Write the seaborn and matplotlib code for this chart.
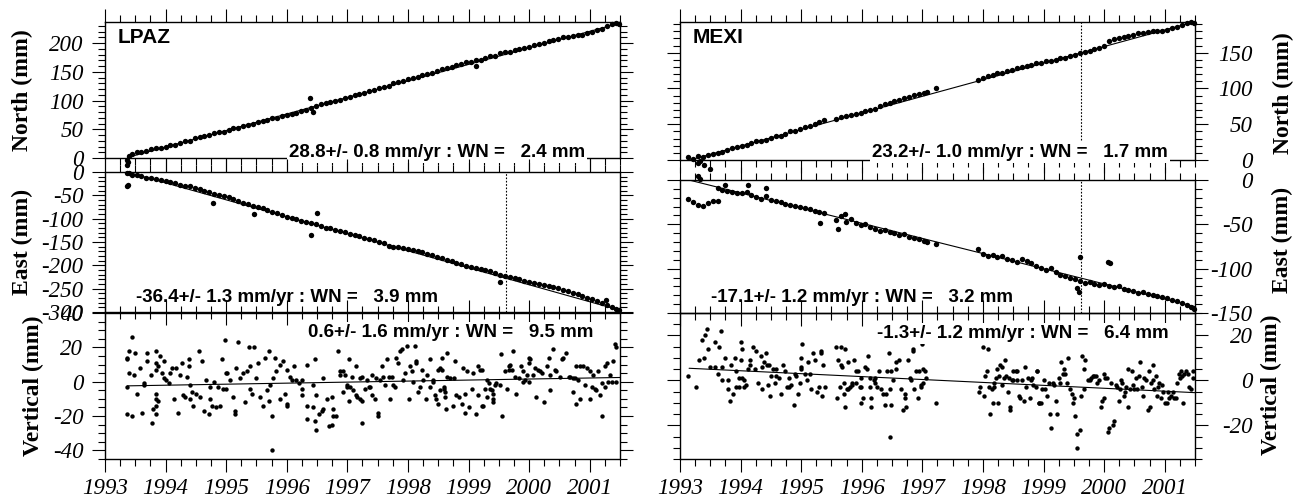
import numpy as np
import pandas as pd
import seaborn as sns
import matplotlib.pyplot as plt
from matplotlib.ticker import MultipleLocator, StrMethodFormatter
from matplotlib.font_manager import FontProperties

sns.set_style('ticks', rc={'axes.edgecolor': 'black', 'xtick.color': 'black',
                           'ytick.color': 'black', 'text.color': 'black'})
plt.rcParams['font.family'] = ['Liberation Serif', 'DejaVu Serif']
plt.rcParams['axes.unicode_minus'] = False

TICK_FONT = FontProperties(family='Liberation Serif', style='italic', size=16.5)

# ---------------- LPAZ: north / east epochs ----------------
LPAZ_T = [1993.37, 1993.40, 1993.45, 1993.52, 1993.60, 1993.68, 1993.76, 1993.84, 1993.92,
          1994.00, 1994.08, 1994.16, 1994.24, 1994.32, 1994.40, 1994.48, 1994.56, 1994.64, 1994.72, 1994.80, 1994.88, 1994.96,
          1995.04, 1995.12, 1995.20, 1995.28, 1995.36, 1995.44, 1995.52, 1995.60, 1995.68, 1995.76, 1995.84, 1995.92,
          1996.00, 1996.08, 1996.16, 1996.24, 1996.32, 1996.40, 1996.48, 1996.56, 1996.64, 1996.72, 1996.80, 1996.88, 1996.96,
          1997.04, 1997.12, 1997.20, 1997.28, 1997.36, 1997.44, 1997.52, 1997.60, 1997.68, 1997.76, 1997.84, 1997.92,
          1998.00, 1998.08, 1998.16, 1998.24, 1998.32, 1998.40, 1998.48, 1998.56, 1998.64, 1998.72, 1998.80, 1998.88, 1998.96,
          1999.04, 1999.12, 1999.20, 1999.28, 1999.36, 1999.44, 1999.52, 1999.60, 1999.68, 1999.76, 1999.84, 1999.92,
          2000.00, 2000.08, 2000.16, 2000.24, 2000.32, 2000.40, 2000.48, 2000.56, 2000.64, 2000.72, 2000.80, 2000.88, 2000.96,
          2001.04, 2001.12, 2001.20, 2001.28, 2001.36, 2001.44, 2001.48]
LPAZ_N = [-3, 4, 7, 10, 11, 12, 15, 17, 17,
          20, 22, 23, 27, 29, 30, 34, 36, 39, 40, 43, 45, 46,
          49, 52, 53, 56, 57, 60, 63, 64, 66, 69, 70, 73,
          75, 76, 79, 82, 84, 88, 90, 94, 95, 98, 100, 101, 104,
          106, 109, 111, 113, 117, 118, 122, 124, 126, 130, 132, 134,
          137, 139, 141, 144, 147, 148, 151, 155, 156, 159, 162, 163, 167,
          168, 170, 171, 174, 177, 178, 183, 184, 185, 188, 190, 191,
          194, 197, 198, 201, 204, 205, 207, 210, 211, 213, 215, 215, 217,
          219, 223, 224, 230, 234, 235, 233]
LPAZ_E = [-2, -3, -6, -7, -9, -12, -13, -16, -18,
          -20, -22, -24, -27, -29, -31, -34, -36, -40, -43, -47, -49, -51,
          -54, -58, -63, -66, -69, -73, -76, -78, -81, -85, -88, -93,
          -96, -98, -100, -104, -107, -110, -112, -116, -119, -121, -125, -127, -129,
          -132, -134, -137, -141, -143, -146, -149, -153, -158, -160, -161, -163,
          -164, -167, -169, -172, -175, -178, -182, -184, -188, -191, -195, -197, -201,
          -203, -205, -207, -210, -213, -216, -220, -222, -224, -227, -230, -233,
          -235, -237, -240, -242, -244, -246, -249, -252, -256, -259, -262, -266, -269,
          -272, -276, -280, -284, -289, -293, -296]
LPAZ_N_OUT_T = [1993.37, 1993.38, 1996.38, 1996.44, 1999.13]
LPAZ_N_OUT = [-12, -7, 104, 80, 160]
LPAZ_E_OUT_T = [1993.37, 1993.38, 1994.79, 1995.46, 1996.40, 1996.50, 1999.52, 2001.27]
LPAZ_E_OUT = [-30, -27, -66, -90, -135, -87, -235, -275]

# ---------------- LPAZ: vertical ----------------
LPAZ_UT = [1993.37, 1993.37, 1993.37, 1993.37, 1993.40, 1993.40, 1993.44, 1993.44, 1993.48, 1993.50, 1993.52, 1993.58,
           1993.61, 1993.64, 1993.64, 1993.69, 1993.69, 1993.76, 1993.77, 1993.80, 1993.84, 1993.84, 1993.84, 1993.85,
           1993.85, 1993.85, 1993.85, 1993.88, 1993.88, 1993.91, 1993.94, 1993.97, 1993.97,
           1994.00, 1994.05, 1994.07, 1994.11, 1994.14, 1994.17, 1994.20, 1994.24, 1994.27, 1994.29, 1994.32, 1994.35,
           1994.38, 1994.38, 1994.40, 1994.40, 1994.43, 1994.46, 1994.51, 1994.55, 1994.57, 1994.60, 1994.63, 1994.67,
           1994.71, 1994.73, 1994.73, 1994.77, 1994.80, 1994.83, 1994.87, 1994.90, 1994.93, 1994.95, 1994.98, 1994.99, 1994.99,
           1995.02, 1995.06, 1995.12, 1995.15, 1995.15, 1995.17, 1995.19, 1995.23, 1995.27, 1995.31, 1995.34, 1995.37,
           1995.39, 1995.39, 1995.42, 1995.46, 1995.49, 1995.53, 1995.56, 1995.60, 1995.64, 1995.67, 1995.70, 1995.70,
           1995.72, 1995.75, 1995.75, 1995.78, 1995.81, 1995.83, 1995.89, 1995.89, 1995.93, 1995.97,
           1996.00, 1996.00, 1996.00, 1996.05, 1996.09, 1996.12, 1996.16, 1996.21, 1996.25, 1996.25, 1996.25, 1996.33,
           1996.33, 1996.33, 1996.43, 1996.43, 1996.47, 1996.47, 1996.49, 1996.49, 1996.54, 1996.58, 1996.60, 1996.60,
           1996.66, 1996.70, 1996.74, 1996.74, 1996.77, 1996.77, 1996.82, 1996.85, 1996.88, 1996.88, 1996.93, 1996.93,
           1996.96, 1996.99, 1996.99,
           1997.02, 1997.02, 1997.04, 1997.07, 1997.10, 1997.14, 1997.14, 1997.16, 1997.21, 1997.21, 1997.25, 1997.25,
           1997.25, 1997.29, 1997.32, 1997.35, 1997.37, 1997.40, 1997.40, 1997.46, 1997.48, 1997.51, 1997.51, 1997.54,
           1997.57, 1997.59, 1997.62, 1997.65, 1997.68, 1997.70, 1997.73, 1997.76, 1997.79, 1997.81, 1997.84, 1997.87,
           1997.90, 1997.92, 1997.95, 1997.99,
           1998.01, 1998.03, 1998.06, 1998.09, 1998.12, 1998.14, 1998.14, 1998.17, 1998.20, 1998.23, 1998.25, 1998.30,
           1998.32, 1998.36, 1998.36, 1998.41, 1998.42, 1998.45, 1998.47, 1998.50, 1998.50, 1998.53, 1998.53, 1998.57,
           1998.57, 1998.59, 1998.59, 1998.61, 1998.61, 1998.63, 1998.65, 1998.65, 1998.69, 1998.74, 1998.76, 1998.78,
           1998.80, 1998.85, 1998.89, 1998.91, 1998.94, 1998.94, 1998.97,
           1999.01, 1999.05, 1999.08, 1999.13, 1999.16, 1999.16, 1999.19, 1999.22, 1999.22, 1999.24, 1999.27, 1999.30,
           1999.30, 1999.33, 1999.35, 1999.38, 1999.40, 1999.41, 1999.41, 1999.44, 1999.46, 1999.52, 1999.53, 1999.55,
           1999.60, 1999.63, 1999.66, 1999.66, 1999.68, 1999.71, 1999.74, 1999.77, 1999.79, 1999.83, 1999.87, 1999.90,
           1999.90, 1999.93, 1999.96, 1999.99, 1999.99,
           2000.00, 2000.02, 2000.07, 2000.10, 2000.12, 2000.15, 2000.18, 2000.21, 2000.24, 2000.29, 2000.32, 2000.34,
           2000.34, 2000.39, 2000.43, 2000.45, 2000.51, 2000.54, 2000.56, 2000.61, 2000.65, 2000.67, 2000.73, 2000.73,
           2000.76, 2000.78, 2000.78, 2000.81, 2000.84, 2000.84, 2000.89, 2000.92, 2000.95,
           2001.00, 2001.00, 2001.03, 2001.06, 2001.09, 2001.11, 2001.14, 2001.17, 2001.20, 2001.21, 2001.25, 2001.25,
           2001.28, 2001.31, 2001.33, 2001.36, 2001.38, 2001.42, 2001.44, 2001.44]
LPAZ_U = [14, 13, -3, -19, 18, 5, 26, -20, 4, 17, -7, 8,
          -18, -1, -2, 12, 17, 4, -24, -16, 18, -7, -19, 7,
          11, -14, -10, 9, -11, 15, 5, 12, 2,
          1, -1, 5, 8, -10, 8, -18, 4, 11, -8, -9, 3,
          9, 13, -10, -2, -6, -14, -7, 18, -9, 12, -17, 1,
          -19, -3, -10, -14, 0, -15, -3, -14, 13, -4, 24, 5, -4,
          5, 1, -9, -17, -19, 8, 23, 2, 5, -12, 6, 20,
          -4, 9, -7, 20, 2, 11, -9, -14, 14, -5, 18, -11,
          -2, -20, -40, 2, 14, 6, 10, -10, 12, -7,
          7, -13, -14, 3, 1, 9, 1, -1, -4, -8, 1, -14,
          -22, 10, -15, -2, 13, -23, -28, -8, -19, -17, 2, -16,
          -10, -26, -9, -25, -16, -20, -20, 18, 6, 4, 6, -6,
          4, -2, -3,
          -11, 13, -3, 3, -5, 9, -8, -9, 2, -10, -24, 3,
          -11, -4, 1, -3, -3, 4, -8, -10, 2, -18, -20, 1,
          9, 3, -2, 13, 3, -10, 3, -2, -3, 14, 11, 18,
          19, 1, 5, 21,
          -10, 9, 6, 0, 21, 12, 11, -6, -3, 7, 1, -10,
          4, 13, -3, 0, 1, -8, -10, 7, -13, 8, -5, 14,
          7, -3, -4, -9, -6, -16, 17, 3, 2, -14, 2, 12,
          -8, -9, -13, 8, -18, -7, 6,
          -15, -4, 5, -19, 9, -8, 7, -14, 7, -14, -4, 1,
          -9, -1, -4, -5, -12, -7, -10, -2, -1, -2, 16, -20,
          6, -4, 9, 7, 10, 7, 18, 3, -7, 2, 9, 6,
          0, 1, 4, 14, 0,
          11, 13, 4, 8, -9, 7, 6, 5, -12, 9, 14, 4,
          -5, 19, 7, 6, 3, 13, 14, 17, 3, 3, 2, -6,
          2, -13, 9, 1, -10, 9, 9, -2, 8,
          6, -10, -3, 4, -4, -5, 6, -8, -20, -1, 9, -3,
          11, 0, 4, 0, 12, 22, 0, 20]

# ---------------- MEXI: north / east epochs ----------------
MEXI_T = [1993.14, 1993.22, 1993.30, 1993.38, 1993.46, 1993.54, 1993.62, 1993.70, 1993.78, 1993.86, 1993.94,
          1994.02, 1994.10, 1994.18, 1994.26, 1994.34, 1994.42, 1994.50, 1994.58, 1994.66, 1994.74, 1994.82, 1994.90, 1994.98,
          1995.06, 1995.14, 1995.22, 1995.30, 1995.38, 1995.58, 1995.66, 1995.74, 1995.82, 1995.90, 1995.98,
          1996.06, 1996.14, 1996.22, 1996.30, 1996.38, 1996.46, 1996.54, 1996.62, 1996.70, 1996.78, 1996.86, 1996.94,
          1997.02, 1997.08, 1997.23, 1997.92,
          1998.00, 1998.08, 1998.16, 1998.24, 1998.32, 1998.40, 1998.48, 1998.56, 1998.64, 1998.72, 1998.80, 1998.88, 1998.96,
          1999.04, 1999.12, 1999.20, 1999.28, 1999.36, 1999.44, 1999.52, 1999.60, 1999.68, 1999.76, 1999.84, 1999.92,
          2000.00, 2000.08, 2000.16, 2000.24, 2000.32, 2000.40, 2000.48, 2000.56, 2000.64, 2000.72, 2000.80, 2000.88, 2000.96,
          2001.04, 2001.12, 2001.20, 2001.28, 2001.36, 2001.44, 2001.48]
MEXI_N = [4, 1, 5, 4, 7, 9, 10, 11, 14, 17, 18,
          20, 21, 24, 26, 27, 28, 31, 33, 34, 37, 40, 41, 43,
          46, 48, 50, 53, 56, 57, 60, 61, 63, 64, 66,
          69, 70, 72, 75, 78, 80, 83, 84, 87, 88, 91, 92,
          94, 95, 100, 112,
          114, 117, 119, 121, 122, 125, 126, 128, 130, 131, 133, 135, 136,
          138, 139, 140, 142, 143, 145, 147, 149, 151, 153, 155, 157,
          160, 167, 169, 171, 172, 174, 175, 177, 178, 179, 180, 181, 181,
          182, 184, 186, 189, 192, 193, 191]
MEXI_E = [-21, -25, -28, -29, -26, -24, -9, -11, -12, -13, -15,
          -15, -14, -17, -19, -21, -18, -22, -24, -25, -27, -28, -29, -31,
          -32, -33, -35, -36, -37, -45, -41, -47, -44, -49, -51,
          -50, -53, -55, -57, -56, -59, -60, -62, -61, -64, -65, -67,
          -69, -70, -72, -78,
          -84, -86, -85, -87, -86, -89, -90, -92, -89, -91, -94, -97, -99,
          -101, -99, -104, -107, -108, -110, -112, -114, -116, -115, -117, -118,
          -117, -119, -121, -120, -123, -124, -125, -127, -126, -129, -130, -131, -132,
          -133, -135, -137, -139, -141, -143, -145]
MEXI_N_OUT_T = [1993.29, 1993.30, 1993.33, 1993.33, 1993.40, 1993.49]
MEXI_N_OUT = [-4, -23, -2, -27, -7, -12]
MEXI_E_OUT_T = [1993.63, 1993.74, 1994.13, 1994.42, 1995.31, 1995.61, 1995.73, 1999.55, 1999.58, 1999.60, 2000.07, 2000.10]
MEXI_E_OUT = [-24, -6, -6, -9, -49, -55, -38, -122, -126, -87, -92, -94]

# ---------------- MEXI: vertical ----------------
MEXI_UT = [1993.14, 1993.27, 1993.32, 1993.36, 1993.40, 1993.41, 1993.44, 1993.47, 1993.49, 1993.58, 1993.58, 1993.62,
           1993.65, 1993.67, 1993.69, 1993.70, 1993.74, 1993.80, 1993.80, 1993.83, 1993.85, 1993.88, 1993.91, 1993.93,
           1993.93, 1993.98, 1993.98,
           1994.00, 1994.00, 1994.03, 1994.03, 1994.05, 1994.05, 1994.09, 1994.13, 1994.15, 1994.15, 1994.21, 1994.24,
           1994.26, 1994.29, 1994.33, 1994.35, 1994.35, 1994.38, 1994.42, 1994.44, 1994.46, 1994.47, 1994.48, 1994.51,
           1994.54, 1994.57, 1994.59, 1994.59, 1994.64, 1994.67, 1994.70, 1994.73, 1994.77, 1994.80, 1994.80, 1994.84,
           1994.88, 1994.89, 1994.92, 1994.95, 1994.98,
           1995.00, 1995.00, 1995.00, 1995.02, 1995.06, 1995.09, 1995.11, 1995.15, 1995.17, 1995.20, 1995.22, 1995.26,
           1995.30, 1995.32, 1995.32, 1995.34, 1995.36, 1995.39, 1995.58, 1995.59, 1995.61, 1995.64, 1995.66, 1995.66,
           1995.68, 1995.70, 1995.70, 1995.72, 1995.72, 1995.75, 1995.77, 1995.77, 1995.80, 1995.84, 1995.84, 1995.88,
           1995.91, 1995.91, 1995.94, 1995.97, 1995.99, 1995.99, 1995.99,
           1996.02, 1996.05, 1996.08, 1996.10, 1996.13, 1996.13, 1996.16, 1996.16, 1996.20, 1996.22, 1996.22, 1996.25,
           1996.29, 1996.32, 1996.35, 1996.38, 1996.40, 1996.42, 1996.45, 1996.47, 1996.47, 1996.49, 1996.49, 1996.51,
           1996.57, 1996.57, 1996.61, 1996.65, 1996.68, 1996.71, 1996.71, 1996.73, 1996.76, 1996.79, 1996.82, 1996.84,
           1996.84, 1996.87, 1996.90, 1996.93, 1996.95, 1996.98, 1996.98,
           1997.00, 1997.01, 1997.01, 1997.04, 1997.06, 1997.23, 1997.93, 1997.95,
           1998.00, 1998.01, 1998.04, 1998.06, 1998.08, 1998.10, 1998.12, 1998.15, 1998.17, 1998.19, 1998.19, 1998.21,
           1998.23, 1998.25, 1998.27, 1998.28, 1998.32, 1998.32, 1998.34, 1998.37, 1998.38, 1998.41, 1998.43, 1998.45,
           1998.45, 1998.48, 1998.50, 1998.50, 1998.54, 1998.56, 1998.57, 1998.59, 1998.61, 1998.65, 1998.67, 1998.70,
           1998.71, 1998.74, 1998.77, 1998.79, 1998.81, 1998.83, 1998.87, 1998.89, 1998.90, 1998.93, 1998.93, 1998.96,
           1998.98,
           1999.00, 1999.03, 1999.05, 1999.09, 1999.11, 1999.12, 1999.15, 1999.18, 1999.21, 1999.22, 1999.25, 1999.27,
           1999.29, 1999.32, 1999.34, 1999.36, 1999.38, 1999.41, 1999.44, 1999.47, 1999.49, 1999.51, 1999.52, 1999.56,
           1999.56, 1999.60, 1999.62, 1999.63, 1999.66, 1999.67, 1999.69, 1999.73, 1999.76, 1999.78, 1999.81, 1999.84,
           1999.86, 1999.89, 1999.92, 1999.95, 1999.96, 1999.99,
           2000.00, 2000.02, 2000.04, 2000.06, 2000.08, 2000.11, 2000.14, 2000.17, 2000.19, 2000.22, 2000.24, 2000.26,
           2000.28, 2000.30, 2000.33, 2000.35, 2000.36, 2000.39, 2000.40, 2000.42, 2000.46, 2000.48, 2000.50, 2000.52,
           2000.55, 2000.58, 2000.59, 2000.62, 2000.64, 2000.66, 2000.69, 2000.72, 2000.74, 2000.75, 2000.77, 2000.80,
           2000.81, 2000.83, 2000.85, 2000.87, 2000.89, 2000.91, 2000.94, 2000.96, 2000.97,
           2001.01, 2001.03, 2001.05, 2001.07, 2001.10, 2001.13, 2001.16, 2001.18, 2001.21, 2001.24, 2001.25, 2001.27,
           2001.28, 2001.30, 2001.32, 2001.35, 2001.38, 2001.40, 2001.43, 2001.46, 2001.46]
MEXI_U = [2, -3, 9, 18, 10, 20, 23, 14, 6, 17, 6, 3,
          15, 22, 6, 0, 10, -4, 0, -9, 7, -6, 10, 4,
          -3, 1, -3,
          17, 9, 14, 1, -3, 0, -2, 5, 9, 7, 15, 5,
          13, -1, 11, 6, -4, 8, 12, 7, -2, 7, -7, 2,
          5, -1, 5, 2, 1, -6, 7, 4, -3, -3, 1, -2,
          -11, 3, 2, -6, -1,
          6, 10, 5, 16, 3, 0, 8, 3, -4, 12, 9, -5,
          -3, 13, 12, -7, 7, -3, 15, -8, 9, -3, 15, 7,
          6, -1, -6, 14, -12, -4, 8, -4, -3, -1, -2, 9,
          4, -1, 4, -3, -10, 1, -3,
          -8, 6, 5, 11, 1, -3, -12, -8, 0, 1, -1, -3,
          4, -4, -6, -11, -6, 4, 12, -25, -4, -11, 4, 0,
          8, 5, 9, -4, -13, -8, -6, -12, 9, 1, 0, 13,
          14, -4, 4, -8, 4, -2, -3,
          16, 5, -1, 4, 1, -10, -5, -3,
          15, -7, 2, 4, 14, -3, -15, -4, -10, -1, -3, 1,
          5, -10, 2, 7, 6, -2, 1, 9, 2, -5, 1, -12,
          -13, 0, 4, 0, 4, 0, 4, -7, -8, 0, -9, 6,
          -3, 1, -8, 0, 1, -2, -3, 4, 4, -10, -10, -10,
          -4,
          0, -4, -7, -1, -15, -21, -1, -2, -9, -15, 1, -1,
          8, 3, 5, 3, -1, 10, -4, -6, -10, -8, -16, -30,
          -24, -22, -7, 11, 5, -4, 9, 0, 0, 1, 2, 2,
          2, -1, 0, -12, -9, 3,
          -8, 1, 1, -23, -21, -1, -20, -18, -2, -3, -9, -4,
          0, -1, -7, -5, -3, 5, -12, -4, 4, -2, -4, 1,
          -4, 2, 8, -3, -7, 1, 0, -13, 4, -12, -1, 0,
          7, -4, 2, -7, -3, -1, -8, -2, -5,
          -10, -10, -5, -8, -7, -5, -8, -8, -1, 3, 1, 4,
          2, -10, 3, 4, 3, -3, -4, 4, 1]

# fitted rates (mm/yr) and level of the fit at a reference epoch
LPAZ_RATE = [28.8, -36.4, 0.6]
LPAZ_LEVEL = [117, -147, 0]
LPAZ_REF, LPAZ_START = 1997.4, 1993.37
MEXI_RATE = [23.2, -17.1, -1.3]
MEXI_LEVEL = [96, -71, 0]
MEXI_REF, MEXI_START = 1997.3, 1993.15

LPAZ_NOTES = ['28.8+/- 0.8 mm/yr : WN =   2.4 mm', '-36.4+/- 1.3 mm/yr : WN =   3.9 mm',
              '0.6+/- 1.6 mm/yr : WN =   9.5 mm']
MEXI_NOTES = ['23.2+/- 1.0 mm/yr : WN =   1.7 mm', '-17.1+/- 1.2 mm/yr : WN =   3.2 mm',
              '-1.3+/- 1.2 mm/yr : WN =   6.4 mm']
YLABELS = ['North (mm)', 'East (mm)', 'Vertical (mm)']
LPAZ_YLIM = [(0, 237), (-300, 0), (-45, 40)]
MEXI_YLIM = [(0, 193), (-150, 0), (-35, 30)]
MAJOR = [50, 50, 20]
MINOR = [10, 10, 5]
BREAK = 1999.62

W, H = 1304, 500
fig = plt.figure(figsize=(W / 100, H / 100), dpi=100)

stations = [
    dict(name='LPAZ', x=(105, 620), rows=[(22, 158), (172, 312), (313, 459)],
         series=[(LPAZ_T, LPAZ_N, LPAZ_N_OUT_T, LPAZ_N_OUT), (LPAZ_T, LPAZ_E, LPAZ_E_OUT_T, LPAZ_E_OUT),
                 (LPAZ_UT, LPAZ_U, [], [])],
         rate=LPAZ_RATE, level=LPAZ_LEVEL, ref=LPAZ_REF, start=LPAZ_START, ylim=LPAZ_YLIM,
         notes=LPAZ_NOTES, note_pos=[(0.932, 0.01), (0.647, 0.071), (0.948, 0.836)],
         breaks=[False, True, False], side='left',
         label_pos=[(22, 90), (22, 242), (33, 386)]),
    dict(name='MEXI', x=(680, 1195), rows=[(22, 160), (180, 313), (313, 459)],
         series=[(MEXI_T, MEXI_N, MEXI_N_OUT_T, MEXI_N_OUT), (MEXI_T, MEXI_E, MEXI_E_OUT_T, MEXI_E_OUT),
                 (MEXI_UT, MEXI_U, [], [])],
         rate=MEXI_RATE, level=MEXI_LEVEL, ref=MEXI_REF, start=MEXI_START, ylim=MEXI_YLIM,
         notes=MEXI_NOTES, note_pos=[(0.948, 0.022), (0.647, 0.083), (0.948, 0.829)],
         breaks=[True, True, False], side='right',
         label_pos=[(1283, 93), (1282, 240), (1271, 385)]),
]

for st in stations:
    x0, x1 = st['x']
    for i, (y0, y1) in enumerate(st['rows']):
        ax = fig.add_axes([x0 / W, 1 - y1 / H, (x1 - x0) / W, (y1 - y0) / H])
        ax.set_facecolor('none')
        t, v, to, vo = st['series'][i]
        df = pd.DataFrame({'t': list(t) + list(to), 'v': list(v) + list(vo)})
        sns.scatterplot(data=df, x='t', y='v', ax=ax, color='black', s=(10 if i == 2 else 15),
                        linewidth=0, clip_on=False, legend=False, zorder=2)
        tf = np.array([st['start'], 2001.5])
        fit = st['level'][i] + st['rate'][i] * (tf - st['ref'])
        sns.lineplot(x=tf, y=fit, ax=ax, color='black', linewidth=0.8, zorder=2)
        if st['breaks'][i]:
            ax.axvline(BREAK, color='black', lw=0.8, ls=(0, (1.5, 1.5)), zorder=1)

        ax.set_xlim(1993, 2001.5)
        ax.set_ylim(*st['ylim'][i])
        ax.set_xlabel('')
        ax.set_ylabel('')
        ax.xaxis.set_major_locator(MultipleLocator(1))
        ax.xaxis.set_minor_locator(MultipleLocator(0.25))
        ax.yaxis.set_major_locator(MultipleLocator(MAJOR[i]))
        ax.yaxis.set_minor_locator(MultipleLocator(MINOR[i]))
        ax.xaxis.set_major_formatter(StrMethodFormatter('{x:.0f}'))
        ax.yaxis.set_major_formatter(StrMethodFormatter('{x:.0f}'))
        for sp in ax.spines.values():
            sp.set_linewidth(1.0)
            sp.set_visible(True)
        ax.tick_params(which='both', direction='out', top=True, bottom=True,
                       left=True, right=True, width=0.8)
        ax.tick_params(which='major', length=9.5)
        ax.tick_params(which='minor', length=5)
        ax.tick_params(axis='x', labelbottom=(i == 2), labeltop=False, pad=4)
        if st['side'] == 'left':
            ax.tick_params(axis='y', labelleft=True, labelright=False, pad=6)
        else:
            ax.tick_params(axis='y', labelleft=False, labelright=True, pad=32)
        for lab in ax.get_xticklabels() + ax.get_yticklabels():
            lab.set_fontproperties(TICK_FONT)
        if st['side'] == 'right':
            plt.setp(ax.get_yticklabels(), ha='right')

        nx, ny = st['note_pos'][i]
        ax.text(nx, ny, st['notes'][i], transform=ax.transAxes, ha='right', va='baseline',
                fontsize=13.5, fontweight='bold', family='Liberation Sans',
                bbox=dict(facecolor='white', edgecolor='none', pad=1.5), zorder=5)
        if i == 0:
            ax.text(0.025, 0.847, st['name'], transform=ax.transAxes, va='baseline',
                    fontsize=15, fontweight='bold', family='Liberation Sans')

        lx, ly = st['label_pos'][i]
        fig.text(lx / W, 1 - ly / H, YLABELS[i], rotation=90, ha='center', va='center',
                 fontsize=17, fontweight='bold')

fig.savefig('out.png', dpi=100)
